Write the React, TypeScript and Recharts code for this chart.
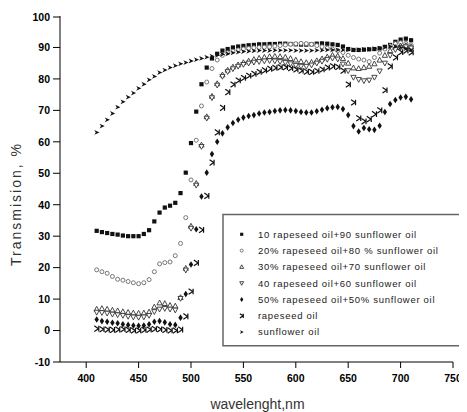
import React from 'react';
import { ScatterChart, Scatter, XAxis, YAxis, Customized } from 'recharts';

const wavelengths = [410,415,420,425,430,435,440,445,450,455,460,465,470,475,480,485,490,495,500,505,510,515,520,525,530,535,540,545,550,555,560,565,570,575,580,585,590,595,600,605,610,615,620,625,630,635,640,645,650,655,660,665,670,675,680,685,690,695,700,705,710];

const mix10 = [31.7,31.3,31,30.7,30.5,30.2,30,30,30,30.7,31.9,34.7,37.5,39.1,39.7,40.6,43.7,50.2,59.6,69.6,78.3,83.6,86.5,88,89,89.5,90,90.3,90.5,90.7,90.8,91,91,91.1,91.1,91.2,91.2,91.1,91,90.9,90.9,91,91.2,91.3,91.2,91,90.8,90.3,89.5,89.2,89.2,89.3,89.4,89.5,89.7,90.2,90.8,91.8,92.5,92.8,92.3];
const mix20 = [19.3,18.7,18.2,17.2,16.3,16,15.6,15.2,14.9,15.2,16.2,18.7,21.2,21.6,21.8,23.8,27.7,35.9,47.9,60.5,71.4,79,83.3,86,87.5,88.3,88.8,89.2,89.5,89.7,89.9,90,90.1,90.2,90.4,90.6,90.8,91,91.2,91.3,91.2,91,90.6,90.2,89.8,89.5,89,88.4,87.5,86.8,86.3,86,85.5,86.8,88.2,89.5,90.5,91.2,91.5,91.3,90.8];
const mix30 = [6.8,7,6.8,6.5,6.3,6,5.8,5.6,5.5,5.6,5.9,7.5,8.8,8.6,8,7.8,10.5,19.8,33.2,46.8,59,68,74.5,78.5,81.3,82.8,83.8,84.5,85.2,85.7,86.2,86.6,86.9,87.1,87.2,87.1,86.9,86.5,86,85.5,85.2,85.3,85.8,86.4,87,87.5,87.3,86.5,85,83.5,83.3,83.6,84,84.8,86,87.5,89,90,90.5,90.6,90.2];
const mix40 = [5.8,5.7,5.5,5.2,5,4.8,4.5,4.3,4.2,4.3,4.8,6,6.8,7,6.8,6.5,10.2,19.2,32.5,46.2,58.5,67.5,74,78,80.8,82.3,83.2,84,84.6,85,85.3,85.5,85.7,85.8,85.7,85.5,85.2,84.8,84.3,84,84,84.4,85,85.6,86.2,86.6,86.3,84.7,82.6,80.5,79.8,79.4,79.6,80.5,82.5,85,87.5,89.3,90,90.2,89.8];
const mix50 = [3.5,3,2.8,2.5,2.3,2,1.8,1.6,1.5,1.6,2,2.8,3,2.6,2,1.8,4.1,11.6,21,32.2,42.6,50.2,56.1,60,62.7,64.6,66,67,67.7,68.2,68.5,69,69.3,69.5,69.8,70,70.1,70,69.8,69.5,69.3,69.3,69.7,70.2,70.7,71,71.1,70.4,68.5,65,63.3,64.4,64,63.8,65.1,69.5,72,73.3,74.1,74.3,73.5];
const rapeseed = [0.6,0.4,0.3,0.2,0.3,0.4,0.2,0,0,0.2,0.3,0.5,0.4,0.2,0,0,0.3,4.5,12.4,21.5,32,42.8,53.4,63,70.8,75.8,78.2,79.5,80.3,81,81.6,82.2,82.7,83.2,83.5,83.7,83.7,83.4,83,82.6,82.3,82.2,82.5,83,83.6,84,83.8,82.6,78.2,72.5,67.5,66.5,67.2,68.8,70,76.4,84,86.8,88.5,89,88.4];
const sunflower = [63,65,67,69,71,72.7,74.2,75.5,77,78.3,79.7,80.8,82,82.8,83.6,84.2,84.8,85.2,85.7,86.1,86.5,86.9,87.2,87.5,87.8,88,88.3,88.5,88.7,88.8,88.9,89,89,89,89.1,89.1,89.1,89.1,89,89,89,89,89.1,89.1,89.2,89.2,89.2,89.2,89.2,89.3,89.3,89.4,89.5,89.6,89.8,90,90.3,90.3,90,89.6,89.2];

const seriesNames = [
  '10 rapeseed oil+90 sunflower oil',
  '20% rapeseed oil+80 % sunflower oil',
  '30% rapeseed oil+70 sunflower oil',
  '40 rapeseed oil+60 sunflower oil',
  '50% rapeseed oil+50% sunflower oil',
  'rapeseed oil',
  'sunflower oil',
];
const seriesValues = [mix10, mix20, mix30, mix40, mix50, rapeseed, sunflower];

const xTicks = [400,425,450,475,500,525,550,575,600,625,650,675,700,725,750];
const yTicks = [-10,-5,0,5,10,15,20,25,30,35,40,45,50,55,60,65,70,75,80,85,90,95,100];

const FONT = '"Liberation Sans", Arial, sans-serif';

const Marker = ({ kind, cx, cy, s = 1 }: { kind: number; cx: number; cy: number; s?: number }) => {
  const k = s;
  switch (kind) {
    case 0:
      return <rect x={cx - 2.1 * k} y={cy - 2.1 * k} width={4.2 * k} height={4.2 * k} fill="#111" />;
    case 1:
      return <circle cx={cx} cy={cy} r={2 * k} fill="#fff" stroke="#777" strokeWidth={1} />;
    case 2:
      return <path d={`M${cx},${cy - 2.8 * k} L${cx + 2.6 * k},${cy + 2 * k} L${cx - 2.6 * k},${cy + 2 * k} Z`} fill="#fff" stroke="#333" strokeWidth={0.9} />;
    case 3:
      return <path d={`M${cx},${cy + 2.8 * k} L${cx + 2.6 * k},${cy - 2 * k} L${cx - 2.6 * k},${cy - 2 * k} Z`} fill="#fff" stroke="#333" strokeWidth={0.9} />;
    case 4:
      return <path d={`M${cx},${cy - 3.3 * k} L${cx + 2.2 * k},${cy} L${cx},${cy + 3.3 * k} L${cx - 2.2 * k},${cy} Z`} fill="#111" />;
    case 5:
      return <path d={`M${cx - 2.4 * k},${cy - 2.8 * k} L${cx + 1.8 * k},${cy} L${cx - 2.4 * k},${cy + 2.8 * k} M${cx + 2.1 * k},${cy - 2.8 * k} L${cx + 2.1 * k},${cy + 2.8 * k}`} fill="none" stroke="#111" strokeWidth={1.2} />;
    default:
      return <path d={`M${cx - 2.4 * k},${cy - 2.4 * k} L${cx + 2.8 * k},${cy} L${cx - 2.4 * k},${cy + 2.4 * k} L${cx - 0.9 * k},${cy} Z`} fill="#111" />;
  }
};

const XTick = (props: any) => {
  const { x, y, payload } = props;
  const v = payload.value;
  const major = v % 50 === 0;
  return (
    <g>
      <line x1={x} x2={x} y1={y} y2={y + (major ? 6 : 4)} stroke="#000" strokeWidth={1} />
      {major && (
        <text x={x} y={y + 20} textAnchor="middle" fontFamily={FONT} fontWeight="bold" fontSize={10.5} fill="#000">
          {v}
        </text>
      )}
    </g>
  );
};

const YTick = (props: any) => {
  const { x, y, payload } = props;
  const v = payload.value;
  const major = v % 10 === 0;
  return (
    <g>
      <line x1={x} x2={x - (major ? 7 : 4)} y1={y} y2={y} stroke="#000" strokeWidth={1} />
      {major && (
        <text x={x - 10} y={y + 3.8} textAnchor="end" fontFamily={FONT} fontWeight="bold" fontSize={10.5} fill="#000">
          {v}
        </text>
      )}
    </g>
  );
};

const Decorations = () => {
  const rows = seriesNames.map((name, i) => {
    const cy = 226.3 + i * 16.3;
    return (
      <g key={name}>
        <Marker kind={i} cx={233.7} cy={cy} s={0.75} />
        <text x={250} y={cy + 3.3} fontFamily={FONT} fontSize={9.5} letterSpacing={0.7} fill="#222">
          {name}
        </text>
      </g>
    );
  });
  return (
    <g>
      <path d="M460,206.5 H215 V337.7 H460" fill="none" stroke="#666" strokeWidth={1.5} />
      {rows}
      <text x={249.5} y={401} textAnchor="middle" fontFamily={FONT} fontSize={14} fill="#333">
        wavelenght,nm
      </text>
      <text
        x={0}
        y={0}
        transform="translate(12.5,196) rotate(-90)"
        textAnchor="middle"
        fontFamily={FONT}
        fontSize={14}
        letterSpacing={2}
        fill="#333"
      >
        Transmision, %
      </text>
    </g>
  );
};

export default function App() {
  return (
    <ScatterChart width={459} height={404} margin={{ top: 8, right: 14, left: 0, bottom: 20 }}>
      <XAxis
        type="number"
        dataKey="x"
        domain={[375, 750]}
        ticks={xTicks}
        tick={<XTick />}
        tickLine={false}
        tickSize={0}
        tickMargin={0}
        height={30}
        axisLine={{ stroke: '#000', strokeWidth: 1 }}
        allowDataOverflow
      />
      <YAxis
        type="number"
        dataKey="y"
        domain={[-10, 100]}
        ticks={yTicks}
        tick={<YTick />}
        tickLine={false}
        tickSize={0}
        tickMargin={0}
        width={52}
        axisLine={{ stroke: '#000', strokeWidth: 1 }}
        allowDataOverflow
      />
      {seriesValues.map((vals, i) => (
        <Scatter
          key={seriesNames[i]}
          name={seriesNames[i]}
          data={wavelengths.map((w, j) => ({ x: w, y: vals[j] }))}
          isAnimationActive={false}
          shape={(p: any) => <Marker kind={i} cx={p.cx} cy={p.cy} />}
        />
      ))}
      <Customized component={Decorations} />
    </ScatterChart>
  );
}
